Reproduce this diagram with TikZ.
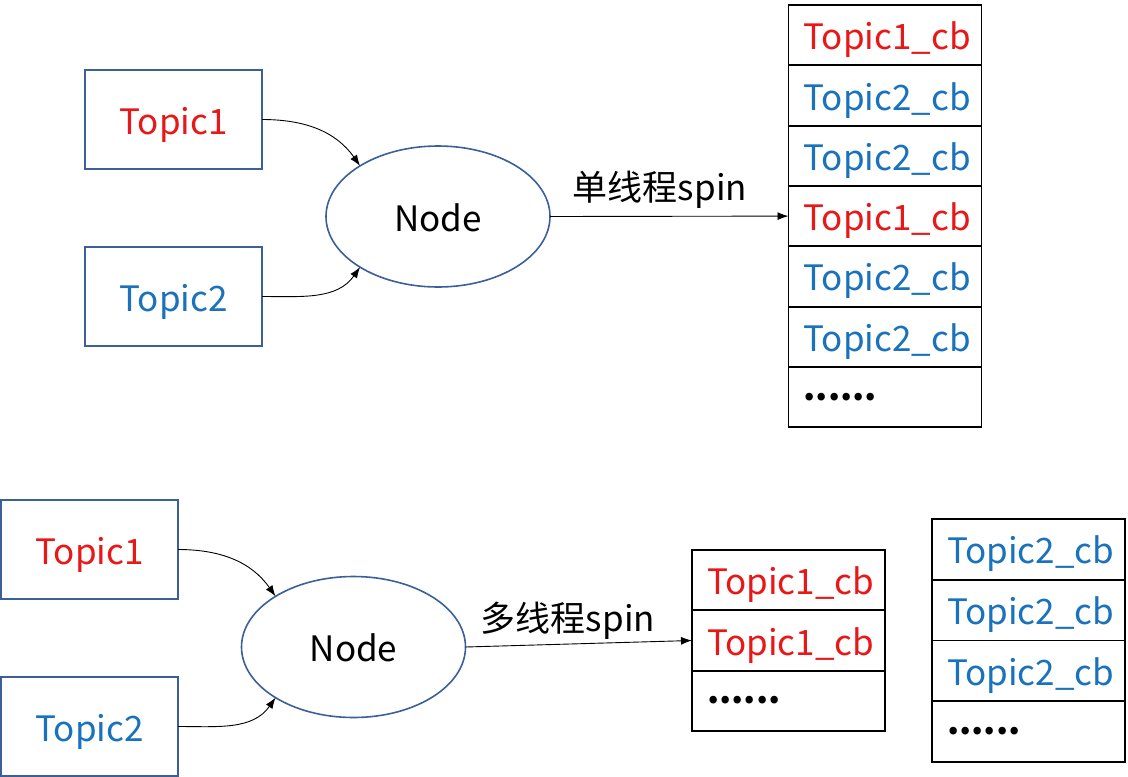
\documentclass[tikz,border=0pt]{standalone}
\usepackage{fontspec}
\setmainfont{Noto Sans CJK SC}
\usetikzlibrary{arrows.meta,shapes.geometric}
\definecolor{tred}{HTML}{E81818}
\definecolor{tblue}{HTML}{1A72BD}
\definecolor{bdr}{HTML}{3A5F9A}
\tikzset{
  every node/.style={font=\fontsize{35pt}{40pt}\selectfont, outer sep=0pt, text height=30pt, text depth=1pt},
  topicbox/.style={draw=bdr, line width=1.8pt, minimum width=177pt, minimum height=99pt, inner sep=0pt},
  nodeell/.style={draw=bdr, line width=1.6pt, ellipse, minimum width=224pt, minimum height=141pt, inner sep=0pt},
  cell/.style={draw=black, line width=1.8pt, minimum height=60.4pt, inner xsep=15pt, inner ysep=0pt, text width=163pt, align=left},
  dotcell/.style={cell, text=black, text height=7pt, text depth=1pt},
  conn/.style={line width=0.9pt, -{Latex[length=11pt,width=8pt]}},
  lbl/.style={inner sep=0pt}
}
\begin{document}
\begin{tikzpicture}[x=1pt,y=-1pt]
\useasboundingbox (0,0) rectangle (1128,777);
% ---------- top ----------
\node[topicbox, text=tred] (t1) at (173.5,119.5) {Topic1};
\node[topicbox, text=tblue] (t2) at (173.5,296.5) {Topic2};
\node[nodeell] (e1) at (438,216.5) {Node};
\node[cell, text=tred]  (a1) at (885,35.2)  {Topic1\_cb};
\node[cell, text=tblue] (a2) at (885,95.5)  {Topic2\_cb};
\node[cell, text=tblue] (a3) at (885,155.8) {Topic2\_cb};
\node[cell, text=tred]  (a4) at (885,216.1) {Topic1\_cb};
\node[cell, text=tblue] (a5) at (885,276.4) {Topic2\_cb};
\node[cell, text=tblue] (a6) at (885,336.7) {Topic2\_cb};
\node[dotcell] (a7) at (885,397.0) {\textbf{......}};
\draw[conn] (t1.east) to[out=0,in=125] (e1.147);
\draw[conn] (t2.east) to[out=0,in=235] (e1.213);
\draw[conn] (e1.east) -- (a4.west);
\node[lbl] (l1) at (660,186) {单线程spin};
% ---------- bottom ----------
\node[topicbox, text=tred] (u1) at (89.5,549.5) {Topic1};
\node[topicbox, text=tblue] (u2) at (89.5,726.5) {Topic2};
\node[nodeell] (e2) at (353.5,647) {Node};
\node[cell, text=tred, minimum height=60.3pt]  (b1) at (788.5,580.2) {Topic1\_cb};
\node[cell, text=tred, minimum height=60.3pt]  (b2) at (788.5,640.5) {Topic1\_cb};
\node[dotcell, minimum height=60.3pt] (b3) at (788.5,700.8) {\textbf{......}};
\node[cell, text=tblue, minimum height=60.7pt] (c1) at (1028.5,549.4) {Topic2\_cb};
\node[cell, text=tblue, minimum height=60.7pt] (c2) at (1028.5,610.1) {Topic2\_cb};
\node[cell, text=tblue, minimum height=60.7pt] (c3) at (1028.5,670.9) {Topic2\_cb};
\node[dotcell, minimum height=60.7pt] (c4) at (1028.5,731.6) {\textbf{......}};
\draw[conn] (u1.east) to[out=0,in=125] (e2.147);
\draw[conn] (u2.east) to[out=0,in=235] (e2.213);
\draw[conn] (e2.east) -- (b2.west);
\node[lbl] (l2) at (568,617) {多线程spin};
\end{tikzpicture}
\end{document}
